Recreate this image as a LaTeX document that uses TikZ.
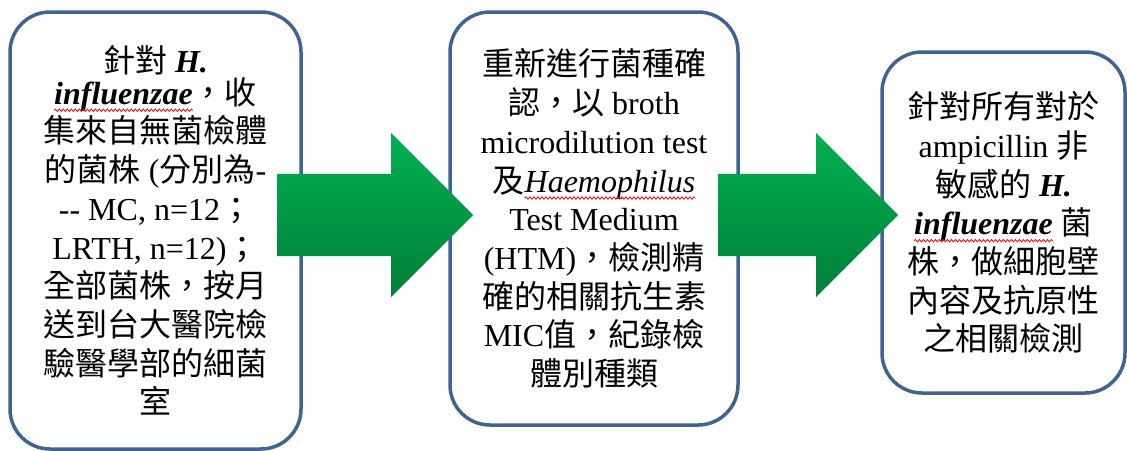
\documentclass[tikz,border=0pt]{standalone}
\usepackage{fontspec}
\usetikzlibrary{shapes.arrows,decorations.pathmorphing}
\setmainfont{Liberation Serif}
\newfontfamily\tc{Noto Sans CJK TC}
\definecolor{boxblue}{RGB}{63,100,148}
\definecolor{arrgreen}{RGB}{0,176,80}
\newcommand{\zh}[1]{{\tc #1}}
\newsavebox\spellbox
\newcommand{\spell}[1]{\sbox\spellbox{#1}\usebox\spellbox\smash{\tikz[overlay,x=1pt,y=1pt]\draw[red,sharp corners,line width=0.8pt,decorate,decoration={snake,amplitude=1.2pt,segment length=4pt}] (-\the\wd\spellbox,-6) -- (0,-6);}}

\begin{document}
\begin{tikzpicture}[x=1pt,y=-1pt]

      \useasboundingbox (0,0) rectangle (1127,450);

      \begin{scope}[every node/.style={draw=boxblue,line width=3.5pt,fill=white,rounded corners=40pt,align=center,font=\fontsize{32}{38.7}\selectfont}]
        \node[minimum width=291pt,minimum height=437pt] (collect) at (155.5,230.5) {\zh{針對} \textbf{\textit{H.}}\\[-7pt]
          \spell{\textbf{\textit{influenzae}}}\zh{，收}\\
          \zh{集來自無菌檢體}\\
          \zh{的菌株} (\zh{分別為}-\\
          -{}- MC, n=12\zh{；}\\
          LRTH, n=12)\zh{；}\\
          \zh{全部菌株，按月}\\
          \zh{送到台大醫院檢}\\
          \zh{驗醫學部的細菌}\\
          \zh{室}};
        \node[minimum width=288pt,minimum height=413pt] (confirm) at (594,218.5) {\zh{重新進行菌種確}\\
          \zh{認，以} broth\\
          microdilution test\\
          \zh{及}\spell{\textit{Haemophilus}}\\
          Test Medium\\
          (HTM)\zh{，檢測精}\\
          \zh{確的相關抗生素}\\
          MIC\zh{值，紀錄檢}\\
          \zh{體別種類}};
        \node[minimum width=243pt,minimum height=341pt] (detect) at (1003.5,222.5) {\zh{針對所有對於}\\
          ampicillin \zh{非}\\
          \zh{敏感的} \textbf{\textit{H.}}\\
          \spell{\textbf{\textit{influenzae}}} \zh{菌}\\
          \zh{株，做細胞壁}\\
          \zh{內容及抗原性}\\
          \zh{之相關檢測}};
      \end{scope}

      \begin{scope}[every node/.style={single arrow,draw=none,anchor=tail,inner xsep=0pt,inner ysep=41pt,minimum width=164pt,single arrow head extend=41pt,top color=arrgreen,middle color=arrgreen,bottom color=arrgreen!72!black}]
        \node[minimum height=196pt] (arrA) at (277,215) {};
        \node[minimum height=180pt] (arrB) at (718,215) {};
      \end{scope}

    \end{tikzpicture}
\end{document}
